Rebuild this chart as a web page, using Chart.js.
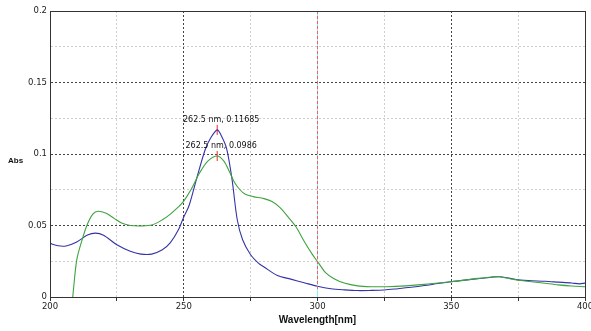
<!DOCTYPE html>
<html lang="en">
<head>
<meta charset="UTF-8">
<title>Absorbance spectrum</title>
<style>
  html, body { margin: 0; padding: 0; background: #fff; }
  #wrap { position: relative; width: 591px; height: 331px; }
</style>
</head>
<body>
<div id="wrap"><canvas id="spectrum"></canvas></div>

<script src="https://cdn.jsdelivr.net/npm/chart.js@4.4.1/dist/chart.umd.min.js"></script>
<script>
// blue trace (peak 0.11685 at 262.5 nm)
var blueWavelength = [200, 203, 206, 210, 214, 217, 220, 225, 230, 234, 238, 242, 245, 248, 250, 252, 255, 258, 260, 262.5,
    264, 266, 268, 270, 272, 275, 278, 280, 285, 290, 295, 300, 305, 310, 315, 320, 325, 330, 335, 340,
    345, 350, 355, 360, 365, 368, 372, 376, 380, 385, 390, 395, 398, 400];
var blueAbs = [0.0375, 0.0358, 0.0357, 0.0385, 0.0433, 0.0447, 0.0432, 0.0365, 0.032, 0.0300, 0.0300, 0.0330, 0.0380, 0.0470, 0.0560, 0.0640, 0.0840, 0.1030, 0.1110, 0.11685,
    0.1130, 0.1040, 0.0830, 0.0540, 0.0400, 0.0295, 0.0235, 0.0210, 0.0150, 0.0125, 0.0100, 0.0075, 0.0058, 0.0050, 0.0045, 0.0046, 0.0049, 0.0058, 0.0068, 0.0080,
    0.0094, 0.0107, 0.0118, 0.0128, 0.0138, 0.0142, 0.0130, 0.0118, 0.0114, 0.0110, 0.0104, 0.0098, 0.0092, 0.0097];

// green trace (peak 0.0986 at 262.5 nm)
var greenWavelength = [208.5, 210, 212, 214, 216, 218, 221, 224, 227, 230, 234, 238, 242, 245, 248, 250, 253, 256, 259, 262.5,
    265, 267, 269, 271, 273, 276, 280, 283, 286, 289, 292, 295, 298, 300.5, 303, 306, 310, 315, 320, 326,
    333, 340, 345, 350, 355, 360, 365, 368, 372, 376, 380, 385, 390, 395, 400];
var greenAbs = [0, 0.026, 0.040, 0.051, 0.058, 0.060, 0.0585, 0.055, 0.0515, 0.050, 0.0497, 0.0503, 0.054, 0.058, 0.063, 0.067, 0.076, 0.087, 0.095, 0.0986,
    0.095, 0.088, 0.080, 0.075, 0.0718, 0.0702, 0.0688, 0.0668, 0.0625, 0.056, 0.049, 0.039, 0.030, 0.0235, 0.017, 0.013, 0.0098, 0.0078, 0.0072, 0.0072,
    0.0078, 0.0088, 0.0098, 0.0107, 0.0118, 0.0130, 0.0140, 0.0142, 0.0128, 0.0115, 0.0107, 0.0096, 0.0085, 0.0077, 0.0072];

var peakWavelength = [262.5, 262.5];
var peakAbs = [0.11685, 0.0986];
var peakLabels = ['262.5 nm, 0.11685', '262.5 nm, 0.0986'];

var cursorWavelength = 300;

var xTickLabels = [200, 250, 300, 350, 400];
var yTickValues = [0, 0.05, 0.1, 0.15, 0.2];
var yTickLabels = ['0', '0.05', '0.1', '0.15', '0.2'];

function toPoints(xs, ys) {
    return xs.map(function(x, i) { return { x: x, y: ys[i] }; });
}

function isMajor(value, step) {
    var r = value / step;
    return Math.abs(r - Math.round(r)) < 1e-6;
}

// same rounding Chart.js uses for 1px grid lines
function align(p) {
    return Math.round(p - 0.5) + 0.5;
}

// frame, cursor line, peak captions, axis titles
var extras = {
    id: 'extras',
    afterDatasetsDraw: function(chart) {
        var ctx = chart.ctx, a = chart.chartArea;
        var xs = chart.scales.x, ys = chart.scales.y;

        // cursor at 300 nm: cyan with red dashes over it
        var cx = align(xs.getPixelForValue(cursorWavelength));
        ctx.save();
        ctx.lineWidth = 1;
        ctx.strokeStyle = '#7df4ff';
        ctx.beginPath(); ctx.moveTo(cx, a.top); ctx.lineTo(cx, a.bottom); ctx.stroke();
        ctx.strokeStyle = '#ff5a5a';
        ctx.setLineDash([3, 2]);
        ctx.beginPath(); ctx.moveTo(cx, a.top); ctx.lineTo(cx, a.bottom - 7); ctx.stroke();
        ctx.restore();

        // frame
        ctx.save();
        ctx.strokeStyle = '#333';
        ctx.lineWidth = 1;
        var l = align(a.left), t = align(a.top), r = align(a.right), b = align(a.bottom);
        ctx.strokeRect(l, t, r - l, b - t);
        ctx.restore();

        // peak captions
        ctx.save();
        ctx.font = '8px "DejaVu Sans"';
        ctx.fillStyle = '#111';
        ctx.textAlign = 'center';
        ctx.textBaseline = 'alphabetic';
        for (var i = 0; i < peakLabels.length; i++) {
            var px = xs.getPixelForValue(peakWavelength[i]);
            var py = ys.getPixelForValue(peakAbs[i]);
            ctx.fillText(peakLabels[i], px + 4, py - 8);
        }
        ctx.restore();
    },
    afterDraw: function(chart) {
        var ctx = chart.ctx, a = chart.chartArea;
        ctx.save();
        ctx.fillStyle = '#111';
        ctx.font = 'bold 10px "Liberation Sans"';
        ctx.textAlign = 'center';
        ctx.fillText('Wavelength[nm]', (a.left + a.right) / 2, 323);
        ctx.font = 'bold 8px "Liberation Sans"';
        ctx.textAlign = 'left';
        ctx.fillText('Abs', 8, 163);
        ctx.restore();
    }
};

new Chart(document.getElementById('spectrum'), {
    type: 'scatter',
    data: {
        datasets: [
            {
                label: 'green',
                data: toPoints(greenWavelength, greenAbs),
                showLine: true,
                borderColor: '#3fa33f',
                borderWidth: 1.1,
                pointRadius: 0,
                tension: 0.3
            },
            {
                label: 'blue',
                data: toPoints(blueWavelength, blueAbs),
                showLine: true,
                borderColor: '#3434a6',
                borderWidth: 1.1,
                pointRadius: 0,
                tension: 0.3
            },
            {
                label: 'peaks',
                data: toPoints(peakWavelength, peakAbs),
                showLine: false,
                pointStyle: 'line',
                rotation: 90,
                pointRadius: 5,
                borderColor: '#ff2020',
                borderWidth: 1
            }
        ]
    },
    options: {
        responsive: true,
        maintainAspectRatio: false,
        animation: false,
        layout: { padding: { top: 11, right: 4, left: 0, bottom: 0 } },
        plugins: {
            legend: { display: false },
            tooltip: { enabled: false }
        },
        scales: {
            x: {
                type: 'linear',
                min: 200,
                max: 400,
                afterFit: function(scale) {
                    scale.height = 34;
                    // let the end labels overflow like the original
                    scale.paddingLeft = 0;
                    scale.paddingRight = 0;
                },
                ticks: {
                    stepSize: 25,
                    autoSkip: false,
                    maxRotation: 0,
                    padding: 1,
                    color: '#222',
                    font: { family: 'DejaVu Sans', size: 8.5 },
                    callback: function(v) {
                        return xTickLabels.indexOf(v) >= 0 ? String(v) : '';
                    }
                },
                grid: {
                    color: function(c) { return isMajor(c.tick.value, 50) ? '#444' : '#cfcfcf'; },
                    tickColor: '#333',
                    tickLength: 4
                },
                border: { color: '#333', dash: [2, 2] }
            },
            y: {
                min: 0,
                max: 0.2,
                afterFit: function(scale) { scale.width = 50; },
                ticks: {
                    stepSize: 0.025,
                    autoSkip: false,
                    padding: 3,
                    color: '#222',
                    font: { family: 'DejaVu Sans', size: 8.5 },
                    callback: function(v) {
                        for (var i = 0; i < yTickValues.length; i++) {
                            if (Math.abs(v - yTickValues[i]) < 1e-6) return yTickLabels[i];
                        }
                        return '';
                    }
                },
                grid: {
                    color: function(c) { return isMajor(c.tick.value, 0.05) ? '#444' : '#cfcfcf'; },
                    drawTicks: false
                },
                border: { color: '#333', dash: [2, 2] }
            }
        }
    },
    plugins: [extras]
});
</script>
</body>
</html>
